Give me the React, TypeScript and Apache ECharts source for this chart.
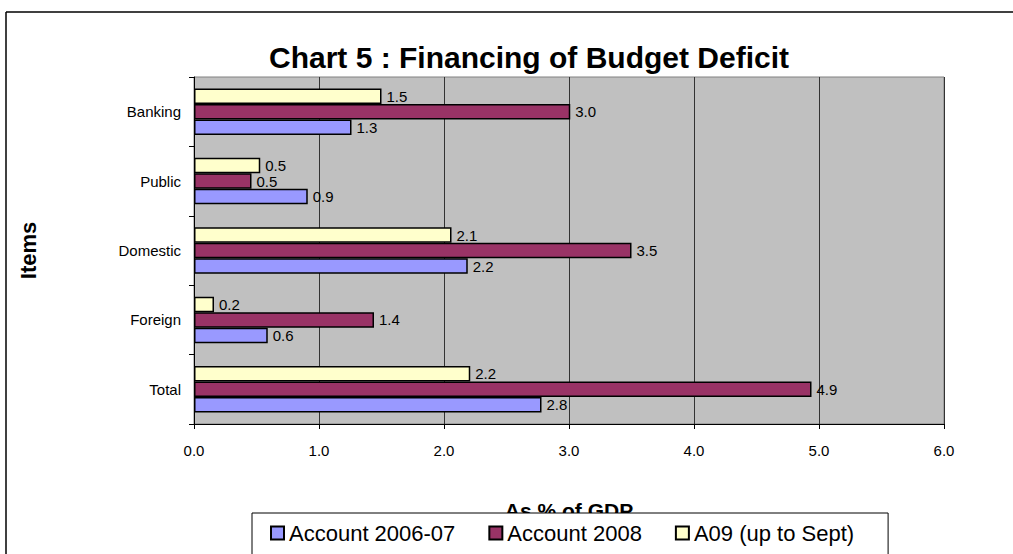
import React, { useEffect, useRef } from "react";
import * as echarts from "echarts";

const categories = ["Total", "Foreign", "Domestic", "Public", "Banking"];
const account0607 = [2.78, 0.59, 2.19, 0.91, 1.26];
const account2008 = [4.94, 1.44, 3.5, 0.46, 3.01];
const a09 = [2.21, 0.16, 2.06, 0.53, 1.5];
const seriesNames = ["Account 2006-07", "Account 2008", "A09 (up to Sept)"];
const seriesColors = ["#9999FF", "#993366", "#FFFFCC"];

const FONT = "Liberation Sans, Arial, sans-serif";

export default function App() {
  const ref = useRef<HTMLDivElement>(null);
  useEffect(() => {
    const chart = echarts.init(ref.current!, null, { renderer: "svg" });
    const values = [account0607, account2008, a09];
    // draw order reversed so the first legend series sits at the bottom of each group
    const order = [2, 1, 0];
    chart.setOption({
      animation: false,
      backgroundColor: "#ffffff",
      textStyle: { fontFamily: FONT },
      title: {
        text: "Chart 5 : Financing of Budget Deficit",
        left: 524,
        textAlign: "center",
        top: 37,
        textStyle: { fontSize: 30, fontWeight: "bold", color: "#000", fontFamily: FONT },
      },
      graphic: [
        {
          type: "line",
          shape: { x1: 6, y1: 12, x2: 1013, y2: 12 },
          style: { stroke: "#000", lineWidth: 1.5 },
        },
        {
          type: "line",
          shape: { x1: 6, y1: 12, x2: 6, y2: 554 },
          style: { stroke: "#000", lineWidth: 1.5 },
        },
      ],
      legend: {
        left: 252,
        top: 513,
        backgroundColor: "#ffffff",
        borderColor: "#000",
        borderWidth: 1,
        padding: [9, 34, 30, 18],
        itemGap: 33,
        itemWidth: 13,
        itemHeight: 13,
        icon: "rect",
        textStyle: { fontSize: 22, color: "#000", fontFamily: FONT },
        data: seriesNames,
        z: 10,
      },
      grid: {
        left: 194,
        right: 69,
        top: 77,
        bottom: 130,
        show: true,
        backgroundColor: "#c0c0c0",
        borderColor: "#808080",
        borderWidth: 1,
      },
      xAxis: {
        type: "value",
        min: 0,
        max: 6,
        interval: 1,
        name: "As % of GDP",
        nameLocation: "middle",
        nameGap: 76,
        nameTextStyle: { fontSize: 21, fontWeight: "bold", color: "#000" },
        axisLine: { show: true, lineStyle: { color: "#000", width: 1 } },
        axisTick: { show: true, length: 5, lineStyle: { color: "#000" } },
        axisLabel: {
          formatter: (v: number) => v.toFixed(1),
          fontSize: 15,
          color: "#000",
          margin: 19,
        },
        splitLine: { show: true, lineStyle: { color: "#333", width: 1 } },
      },
      yAxis: {
        type: "category",
        data: categories,
        name: "Items",
        nameLocation: "middle",
        nameRotate: 90,
        nameGap: 155,
        nameTextStyle: { fontSize: 22, fontWeight: "bold", color: "#000" },
        axisLine: { show: true, lineStyle: { color: "#000", width: 1 } },
        axisTick: { show: true, length: 5, lineStyle: { color: "#000" } },
        axisLabel: { fontSize: 15, color: "#000", margin: 13 },
        splitLine: { show: false },
      },
      series: order.map((i) => ({
        name: seriesNames[i],
        type: "bar",
        data: values[i],
        barWidth: 15.5,
        barGap: "0%",
        itemStyle: { color: seriesColors[i], borderColor: "#000", borderWidth: 1.5 },
        label: {
          show: true,
          position: "right",
          distance: 5,
          fontSize: 15,
          color: "#000",
          formatter: (p: any) => Number(p.value).toFixed(1),
        },
      })),
    });
    return () => chart.dispose();
  }, []);
  return (
    <div
      ref={ref}
      style={{ position: "fixed", left: 0, top: 0, width: 1013, height: 554 }}
    />
  );
}
